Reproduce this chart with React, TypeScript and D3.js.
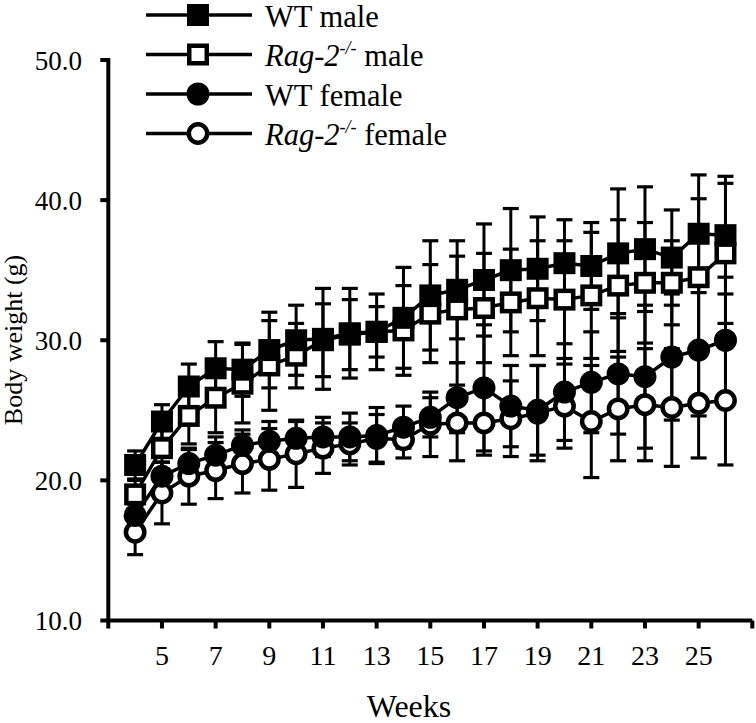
import React, { useEffect, useRef } from "react";
import * as d3 from "d3";

const weeks = [4, 5, 6, 7, 8, 9, 10, 11, 12, 13, 14, 15, 16, 17, 18, 19, 20, 21, 22, 23, 24, 25, 26];
const xTicks = [3, 5, 7, 9, 11, 13, 15, 17, 19, 21, 23, 25, 27];
const xTickLabels = ["", "5", "7", "9", "11", "13", "15", "17", "19", "21", "23", "25", ""];
const yTicks = [10, 20, 30, 40, 50];

const wtMale = [21.1, 24.2, 26.7, 28.0, 27.9, 29.3, 30.0, 30.1, 30.5, 30.6, 31.6, 33.2, 33.6, 34.3, 35.0, 35.1, 35.5, 35.3, 36.2, 36.5, 35.9, 37.6, 37.5];
const wtMaleErr = [1.0, 1.2, 1.6, 1.9, 1.9, 2.7, 2.5, 3.6, 3.2, 2.7, 3.6, 3.9, 3.5, 4.0, 4.4, 3.7, 3.1, 3.1, 4.6, 4.45, 3.4, 4.2, 4.2];
const ragMale = [19.0, 22.3, 24.6, 25.9, 26.9, 28.2, 28.9, 30.0, 30.4, 30.6, 30.7, 31.9, 32.2, 32.3, 32.7, 33.0, 32.9, 33.2, 33.9, 34.1, 34.1, 34.5, 36.2];
const ragMaleErr = [1.0, 1.5, 2.0, 2.5, 2.8, 3.2, 2.3, 2.6, 2.5, 1.8, 3.2, 3.5, 3.8, 3.9, 3.8, 4.1, 4.2, 4.5, 4.7, 4.3, 3.0, 5.6, 5.0];
const wtFemale = [17.5, 20.3, 21.2, 21.8, 22.5, 22.8, 23.0, 23.1, 23.1, 23.2, 23.8, 24.5, 25.9, 26.6, 25.3, 25.0, 26.3, 27.0, 27.6, 27.4, 28.8, 29.3, 30.0];
const wtFemaleErr = [0.8, 1.0, 1.0, 1.3, 1.1, 1.4, 1.2, 1.4, 1.7, 2.0, 1.5, 1.4, 2.5, 4.5, 2.9, 3.2, 3.45, 3.6, 4.3, 5.1, 4.5, 4.7, 4.5];
const ragFemale = [16.3, 19.1, 20.3, 20.7, 21.2, 21.5, 21.9, 22.3, 22.6, 23.0, 22.9, 24.0, 24.1, 24.1, 24.4, 24.8, 25.3, 24.2, 25.1, 25.4, 25.2, 25.5, 25.7];
const ragFemaleErr = [1.6, 2.2, 2.0, 2.0, 2.1, 2.2, 2.4, 1.8, 1.5, 1.7, 1.3, 2.3, 2.7, 2.3, 2.7, 3.4, 3.0, 4.0, 3.7, 4.0, 4.2, 3.9, 4.6];

type Series = { italicPart: string; sup: string; rest: string; values: number[]; errs: number[]; shape: "square" | "circle"; filled: boolean };

const series: Series[] = [
  { italicPart: "", sup: "", rest: "WT male", values: wtMale, errs: wtMaleErr, shape: "square", filled: true },
  { italicPart: "Rag-2", sup: "-/-", rest: " male", values: ragMale, errs: ragMaleErr, shape: "square", filled: false },
  { italicPart: "", sup: "", rest: "WT female", values: wtFemale, errs: wtFemaleErr, shape: "circle", filled: true },
  { italicPart: "Rag-2", sup: "-/-", rest: " female", values: ragFemale, errs: ragFemaleErr, shape: "circle", filled: false },
];
// marker drawing order: knockout series below, wild type on top
const markerOrder = [1, 3, 0, 2];

const FONT = "'Liberation Serif', 'Times New Roman', serif";

export default function App() {
  const ref = useRef<SVGSVGElement>(null);

  useEffect(() => {
    const svg = d3.select(ref.current);
    svg.selectAll("*").remove();

    const x = d3.scaleLinear().domain([3, 27]).range([108.3, 752.3]);
    const y = d3.scaleLinear().domain([10, 50]).range([620.5, 60]);

    const drawMarker = (g: any, s: Series, cx: number, cy: number) => {
      if (s.shape === "square") {
        if (s.filled) {
          g.append("rect").attr("x", cx - 11).attr("y", cy - 11).attr("width", 22).attr("height", 22).attr("fill", "#000");
        } else {
          g.append("rect").attr("x", cx - 8.75).attr("y", cy - 8.75).attr("width", 17.5).attr("height", 17.5)
            .attr("fill", "#fff").attr("stroke", "#000").attr("stroke-width", 4.5);
        }
      } else {
        if (s.filled) {
          g.append("circle").attr("cx", cx).attr("cy", cy).attr("r", 11.5).attr("fill", "#000");
        } else {
          g.append("circle").attr("cx", cx).attr("cy", cy).attr("r", 9.2)
            .attr("fill", "#fff").attr("stroke", "#000").attr("stroke-width", 4.5);
        }
      }
    };

    // axes
    const axes = svg.append("g");
    axes.append("line").attr("x1", x(3)).attr("x2", x(27)).attr("y1", y(10)).attr("y2", y(10))
      .attr("stroke", "#000").attr("stroke-width", 4);
    axes.append("line").attr("x1", x(3)).attr("x2", x(3)).attr("y1", y(10) + 2).attr("y2", y(50) - 2)
      .attr("stroke", "#000").attr("stroke-width", 4);
    xTicks.forEach((t, i) => {
      axes.append("line").attr("x1", x(t)).attr("x2", x(t)).attr("y1", y(10)).attr("y2", y(10) + 8)
        .attr("stroke", "#000").attr("stroke-width", 4);
      if (xTickLabels[i]) {
        axes.append("text").attr("x", x(t)).attr("y", 665).attr("text-anchor", "middle")
          .attr("font-family", FONT).attr("font-size", 28).text(xTickLabels[i]);
      }
    });
    yTicks.forEach((t) => {
      axes.append("line").attr("x1", x(3) - 8).attr("x2", x(3)).attr("y1", y(t)).attr("y2", y(t))
        .attr("stroke", "#000").attr("stroke-width", 4);
      axes.append("text").attr("x", 82).attr("y", y(t) + 9.5).attr("text-anchor", "end")
        .attr("font-family", FONT).attr("font-size", 27).text(d3.format(".1f")(t));
    });
    axes.append("text").attr("x", 409).attr("y", 717).attr("text-anchor", "middle")
      .attr("font-family", FONT).attr("font-size", 32).text("Weeks");
    axes.append("text").attr("transform", "translate(22,340) rotate(-90)").attr("text-anchor", "middle")
      .attr("font-family", FONT).attr("font-size", 26).text("Body weight (g)");

    // error bars
    const line = d3.line<number>().x((_, i) => x(weeks[i])).y((v) => y(v));
    const gErr = svg.append("g");
    series.forEach((s) => {
      s.values.forEach((v, i) => {
        const cx = x(weeks[i]);
        const lo = y(v - s.errs[i]);
        const hi = y(v + s.errs[i]);
        gErr.append("line").attr("x1", cx).attr("x2", cx).attr("y1", lo).attr("y2", hi)
          .attr("stroke", "#000").attr("stroke-width", 3);
        [lo, hi].forEach((yy) => {
          gErr.append("line").attr("x1", cx - 8).attr("x2", cx + 8).attr("y1", yy).attr("y2", yy)
            .attr("stroke", "#000").attr("stroke-width", 3.2);
        });
      });
    });
    // lines
    const gLine = svg.append("g");
    series.forEach((s) => {
      gLine.append("path").attr("d", line(s.values)).attr("fill", "none").attr("stroke", "#000").attr("stroke-width", 3.5);
    });
    // markers
    const gMark = svg.append("g");
    markerOrder.forEach((k) => {
      const s = series[k];
      s.values.forEach((v, i) => drawMarker(gMark, s, x(weeks[i]), y(v)));
    });

    // legend
    const leg = svg.append("g");
    series.forEach((s, i) => {
      const cy = 15 + i * 39.5;
      leg.append("line").attr("x1", 146).attr("x2", 252).attr("y1", cy).attr("y2", cy)
        .attr("stroke", "#000").attr("stroke-width", 3.5);
      drawMarker(leg, s, 198, cy);
      const t = leg.append("text").attr("x", 265).attr("y", cy + 11.5).attr("font-family", FONT).attr("font-size", 30.5);
      if (s.italicPart) {
        t.append("tspan").attr("font-style", "italic").text(s.italicPart);
        t.append("tspan").attr("font-style", "italic").attr("font-size", 18).attr("dy", -12).text(s.sup);
        t.append("tspan").attr("dy", 12).text(s.rest);
      } else {
        t.append("tspan").text(s.rest);
      }
    });
  }, []);

  return (
    <svg ref={ref} width={756} height={723} style={{ position: "absolute", left: 0, top: 0, background: "#fff" }} />
  );
}
